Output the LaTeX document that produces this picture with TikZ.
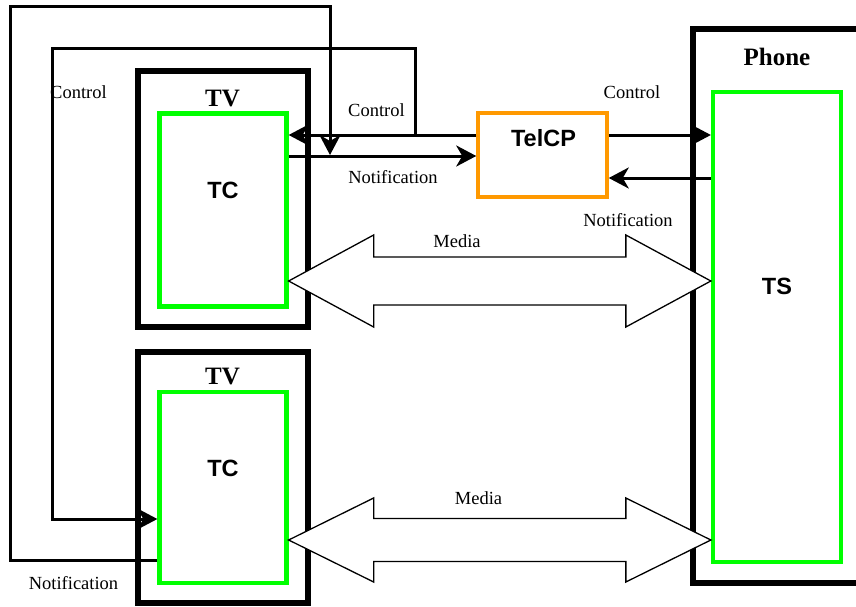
\documentclass[tikz,border=0pt]{standalone}
\usepackage{fontspec}
\setmainfont{Liberation Serif}
\setsansfont{Liberation Sans}
\usetikzlibrary{arrows.meta, calc}

\definecolor{tcgreen}{RGB}{0,255,0}
\definecolor{cporange}{RGB}{255,153,0}

\begin{document}
\begin{tikzpicture}[
    x=1pt, y=-1pt,
    device/.style={rectangle, draw=black, line width=6.5pt, inner sep=0pt},
    client/.style={rectangle, draw=tcgreen, line width=4.3pt, inner sep=0pt},
    cpbox/.style={rectangle, draw=cporange, line width=3.5pt, inner sep=0pt},
    devlabel/.style={font=\fontsize{25}{30}\selectfont\bfseries},
    clientlabel/.style={font=\sffamily\fontsize{23.5}{28}\selectfont\bfseries},
    msg/.style={font=\fontsize{18.5}{22}\selectfont},
    signal/.style={draw=black, line width=3pt, -{Stealth[length=20pt, width=21pt, inset=6pt]}},
    media/.style={draw=black, line width=1.3pt, fill=white, line join=miter}
]
\useasboundingbox (0,0) rectangle (856,607);

% --- Devices and their clients ---
\node[device, minimum width=170pt, minimum height=256pt] (tv1) at (223,199) {};
\node[device, minimum width=170pt, minimum height=251pt] (tv2) at (223,477.5) {};
\node[device, minimum width=170pt, minimum height=554pt] (phone) at (778,306) {};
\node[client, minimum width=127pt, minimum height=193pt] (tc1) at (223,210) {};
\node[client, minimum width=127pt, minimum height=191pt] (tc2) at (223,487.5) {};
\node[client, minimum width=128pt, minimum height=470pt] (ts) at (777,327) {};
\node[cpbox, minimum width=129pt, minimum height=84pt] (telcp) at (542.5,155) {};

% --- Box titles ---
\node[devlabel] (tv1 name) at (222.5,99) {TV};
\node[devlabel] (tv2 name) at (222.5,377) {TV};
\node[devlabel] (phone name) at (777,57) {Phone};
\node[clientlabel] (tc1 name) at (223,190) {TC};
\node[clientlabel] (tc2 name) at (223,468) {TC};
\node[clientlabel] (ts name) at (777,286) {TS};
\node[clientlabel] (telcp name) at (543.5,138.5) {TelCP};

% --- Levels and corners of the signal lines ---
\coordinate (ctrl level) at (0,135);
\coordinate (notif level) at (0,156);
\coordinate (ts notif level) at (0,178);
\coordinate (tc2 ctrl level) at (0,519);
\coordinate (tc2 notif level) at (0,560);
\coordinate (ctrl branch) at (415,135);
\coordinate (ctrl corner) at (52,49);
\coordinate (notif corner) at (10,7);
\coordinate (notif join) at (330,155);
\coordinate (media1 level) at (0,281);
\coordinate (media2 level) at (0,540);

% --- Control and notification ---
\draw[signal] (telcp.west |- ctrl level) -- (tc1.east |- ctrl level);
\draw[signal] (tc1.east |- notif level) -- (telcp.west |- notif level);
\draw[signal] (telcp.east |- ctrl level) -- (ts.west |- ctrl level);
\draw[signal] (ts.west |- ts notif level) -- (telcp.east |- ts notif level);
\draw[signal] (ctrl branch) |- (ctrl corner) |- (tc2.west |- tc2 ctrl level);
\draw[signal] (tc2.west |- tc2 notif level) -| (notif corner) -| (notif join);

% --- Media streams ---
\draw[media] (tc1.east |- media1 level) -- ++(85,-46) -- ++(0,22)
    -- ($(ts.west |- media1 level)+(-85,-24)$) -- ++(0,-22) -- (ts.west |- media1 level)
    -- ++(-85,46) -- ++(0,-22) -- ($(tc1.east |- media1 level)+(85,24)$) -- ++(0,22) -- cycle;
\draw[media] (tc2.east |- media2 level) -- ++(85,-42) -- ++(0,20.5)
    -- ($(ts.west |- media2 level)+(-85,-21.5)$) -- ++(0,-20.5) -- (ts.west |- media2 level)
    -- ++(-85,42) -- ++(0,-20.5) -- ($(tc2.east |- media2 level)+(85,21.5)$) -- ++(0,20.5) -- cycle;

% --- Message labels ---
\node[msg] (ctrl left) at (78.5,92) {Control};
\node[msg] (ctrl mid) at (376.5,110) {Control};
\node[msg] (notif mid) at (393,177) {Notification};
\node[msg] (ctrl right) at (632,92) {Control};
\node[msg] (notif right) at (628,220) {Notification};
\node[msg] (media1 name) at (457,241) {Media};
\node[msg] (media2 name) at (478.5,498) {Media};
\node[msg] (notif left) at (73.5,583) {Notification};

\end{tikzpicture}
\end{document}
